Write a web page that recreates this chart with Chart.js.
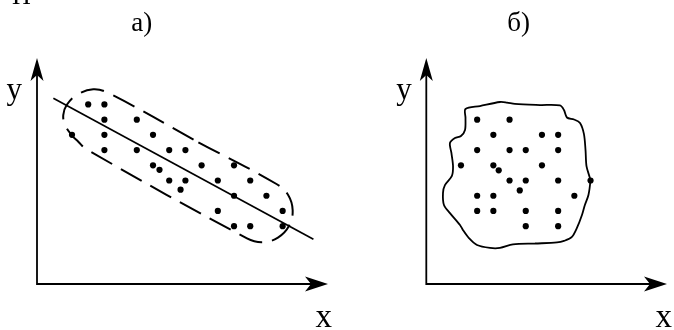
<!DOCTYPE html>
<html>
<head>
<meta charset="utf-8">
<script src="https://cdn.jsdelivr.net/npm/chart.js@4.4.1/dist/chart.umd.min.js"></script>
<style>
  body { margin: 0; background: #fff; }
  #wrap { position: relative; width: 674px; height: 330px; overflow: hidden; }
  canvas { position: absolute; top: 0; }
  .lbl { position: absolute; font-family: "Liberation Serif", "DejaVu Serif", serif; line-height: 1; color: #000; white-space: nowrap; }
</style>
</head>
<body>
<div id="wrap">
  <canvas id="chartA" width="337" height="330" style="left:0"></canvas>
  <canvas id="chartB" width="337" height="330" style="left:337px"></canvas>
  <div class="lbl" style="left:12px; top:-17px; font-size:26px;">П</div>
  <div class="lbl" style="left:141.7px; top:9px; font-size:27px; transform:translateX(-50%);">а)</div>
  <div class="lbl" style="left:518.7px; top:9px; font-size:27px; transform:translateX(-50%);">б)</div>
  <div class="lbl" style="left:6.5px; top:73px; font-size:31px;">y</div>
  <div class="lbl" style="left:396.3px; top:73px; font-size:31px;">y</div>
  <div class="lbl" style="left:315.4px; top:300px; font-size:33px;">x</div>
  <div class="lbl" style="left:655.4px; top:300px; font-size:33px;">x</div>
</div>
<script>
// а) points along a falling line
var dotsAX = [3, 4, 4, 6, 2, 4, 7, 4, 6, 8, 9, 7, 10, 12, 7.4, 8, 9, 11, 13, 8.7, 12, 14, 11, 15, 12, 13, 15];
var dotsAY = [12, 12, 11, 11, 10, 10, 10, 9, 9, 9, 9, 8, 8, 8, 7.7, 7, 7, 7, 7, 6.4, 6, 6, 5, 5, 4, 4, 4];
var lineAX = [0.85, 16.9];
var lineAY = [12.40, 3.14];
// dashed outline round the cloud
var ovalX = [9.80, 14.62, 15.34, 15.62, 15.39, 14.71, 13.76, 12.80, 2.91, 2.39, 1.98, 1.57, 1.46, 1.67, 2.29, 3.31, 4.29, 9.80];
var ovalY = [9.51, 6.77, 6.05, 5.04, 4.01, 3.25, 2.95, 3.20, 9.04, 9.55, 9.99, 10.65, 11.30, 11.96, 12.62, 12.99, 12.73, 9.51];

// б) points with no link
var dotsBX = [3, 5, 4, 7, 8, 3, 5, 6, 8, 2, 4, 7, 4.33, 5, 6, 8, 10, 5.63, 3, 4, 9, 3, 4, 6, 8, 6, 8];
var dotsBY = [11, 11, 10, 10, 10, 9, 9, 9, 9, 8, 8, 8, 7.67, 7, 7, 7, 7, 6.35, 6, 6, 6, 5, 5, 5, 5, 4, 4];
var blobX = [6.57, 5.21, 4.41, 3.79, 2.99, 2.49, 2.12, 1.94, 1.32, 0.95, 0.89, 1.01, 1.44, 1.51, 1.41, 1.32, 1.63, 2.00, 2.25, 2.28,
             2.28, 3.17, 4.41, 4.84, 5.33, 6.88, 8.11, 8.36, 8.54, 8.98, 9.35, 9.59, 9.69, 9.75, 9.96, 9.99, 9.87, 9.65, 9.47,
             9.16, 8.85, 8.36, 7.93, 6.57];
var blobY = [2.86, 2.80, 2.57, 2.57, 2.76, 3.22, 3.75, 4.08, 4.86, 5.39, 6.18, 6.70, 7.30, 7.95, 8.81, 9.46, 9.79, 9.92, 10.32, 11.11,
             11.70, 11.89, 12.16, 12.12, 12.03, 11.96, 11.93, 11.63, 11.14, 11.01, 10.78, 10.06, 9.00, 7.95, 7.16, 6.97, 6.05, 5.39, 4.73,
             3.88, 3.29, 3.03, 2.93, 2.86];

function toPoints(xs, ys) {
  var pts = [];
  for (var i in xs) {
    pts.push({x: xs[i], y: ys[i]});
  }
  return pts;
}

// axis lines with arrow heads along the plot area
var axesArrows = {
  id: 'axesArrows',
  beforeDatasetsDraw: function(chart) {
    var a = chart.chartArea;
    var ctx = chart.ctx;
    ctx.save();
    ctx.strokeStyle = '#000';
    ctx.fillStyle = '#000';
    ctx.lineWidth = 1.8;
    ctx.beginPath();
    ctx.moveTo(a.left, a.top + 12);
    ctx.lineTo(a.left, a.bottom);
    ctx.lineTo(a.right - 12, a.bottom);
    ctx.stroke();
    ctx.beginPath();
    ctx.moveTo(a.left, a.top);
    ctx.lineTo(a.left - 6.5, a.top + 23);
    ctx.lineTo(a.left, a.top + 17);
    ctx.lineTo(a.left + 6.5, a.top + 23);
    ctx.closePath();
    ctx.fill();
    ctx.beginPath();
    ctx.moveTo(a.right, a.bottom);
    ctx.lineTo(a.right - 23, a.bottom - 7.5);
    ctx.lineTo(a.right - 17, a.bottom);
    ctx.lineTo(a.right - 23, a.bottom + 7.5);
    ctx.closePath();
    ctx.fill();
    ctx.restore();
  }
};

function makeOptions(pad, xmin, xmax) {
  return {
    responsive: false,
    animation: false,
    layout: { padding: pad },
    scales: {
      x: { type: 'linear', display: false, min: xmin, max: xmax },
      y: { type: 'linear', display: false, min: 0.2, max: 15.05 }
    },
    plugins: { legend: { display: false }, tooltip: { enabled: false } }
  };
}

var dotStyle = { showLine: false, pointRadius: 3.1, pointBackgroundColor: '#000', pointBorderWidth: 0 };

new Chart(document.getElementById('chartA'), {
  type: 'scatter',
  data: {
    datasets: [
      Object.assign({ label: 'а', data: toPoints(dotsAX, dotsAY) }, dotStyle),
      {
        label: 'line',
        data: toPoints(lineAX, lineAY),
        showLine: true, borderColor: '#000', borderWidth: 1.7, pointRadius: 0
      },
      {
        label: 'oval',
        data: toPoints(ovalX, ovalY),
        showLine: true, borderColor: '#000', borderWidth: 2, borderDash: [24, 10],
        tension: 0.4, pointRadius: 0, fill: false
      }
    ]
  },
  options: makeOptions({ left: 37, right: 9, top: 58, bottom: 46 }, -0.16, 17.8),
  plugins: [axesArrows]
});

new Chart(document.getElementById('chartB'), {
  type: 'scatter',
  data: {
    datasets: [
      Object.assign({ label: 'б', data: toPoints(dotsBX, dotsBY) }, dotStyle),
      {
        label: 'blob',
        data: toPoints(blobX, blobY),
        showLine: true, borderColor: '#000', borderWidth: 1.8,
        tension: 0.3, pointRadius: 0, fill: false
      }
    ]
  },
  options: makeOptions({ left: 89.3, right: 7, top: 58, bottom: 46 }, -0.14, 14.72),
  plugins: [axesArrows]
});
</script>
</body>
</html>
